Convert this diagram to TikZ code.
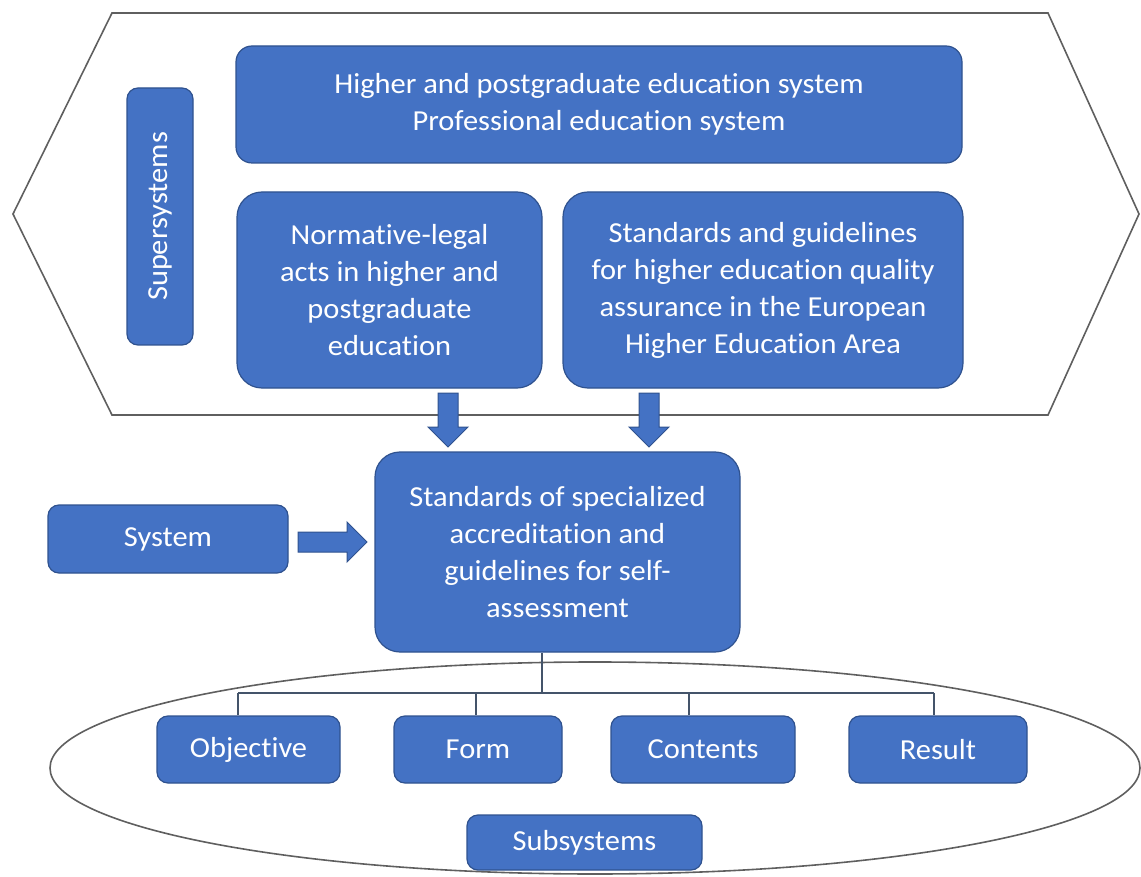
\documentclass[tikz,border=0pt]{standalone}
\usepackage{fontspec}
\setmainfont{Carlito}[FakeStretch=1.05, Ligatures=NoCommon]
\definecolor{boxfill}{HTML}{4472C4}
\definecolor{boxline}{HTML}{2F528F}
\definecolor{outline}{HTML}{5F5F5F}
\definecolor{treeline}{HTML}{44546A}
\begin{document}
\begin{tikzpicture}[x=1pt,y=-1pt,
  bluebox/.style={draw=boxline, line width=1.2pt, fill=boxfill, text=white,
    align=center, inner sep=0pt, font=\fontsize{29}{37}\selectfont},
  bigr/.style={rounded corners=25pt},
  smallr/.style={rounded corners=11pt},
  blockarrow/.style={draw=boxline, line width=1pt, fill=boxfill},
  frame/.style={draw=outline, line width=1.6pt},
  tree/.style={draw=treeline, line width=1.5pt}]
\useasboundingbox (0,0) rectangle (1141,877);

% outer hexagon (supersystems)
\draw[frame] (13,214) -- (112,13) -- (1048,13) -- (1139,214) -- (1048,415) -- (112,415) -- cycle;

% ellipse (subsystems)
\draw[frame] (595,768) ellipse [x radius=545, y radius=106];

% boxes
\node[bluebox, rounded corners=16pt, minimum width=726, minimum height=117] (top) at (599,104.5)
  {Higher and postgraduate education system\\Professional education system};
\node[bluebox, smallr, rotate=90, minimum width=257, minimum height=66] (super) at (160,216.5) {Supersystems};
\node[bluebox, bigr, minimum width=305, minimum height=196] (norm) at (389.5,290)
  {Normative-legal\\acts in higher and\\postgraduate\\education};
\node[bluebox, bigr, minimum width=400, minimum height=196] (std) at (763,290)
  {Standards and guidelines\\for higher education quality\\assurance in the European\\Higher Education Area};
\node[bluebox, bigr, minimum width=365, minimum height=200] (cent) at (557.5,552)
  {Standards of specialized\\accreditation and\\guidelines for self-\\assessment};
\node[bluebox, smallr, minimum width=240, minimum height=68] (sys) at (168,539) {System};
\node[bluebox, smallr, minimum width=183, minimum height=67] (obj) at (248.5,749.5) {Objective};
\node[bluebox, smallr, minimum width=168, minimum height=67] (form) at (478,749.5) {Form};
\node[bluebox, smallr, minimum width=184, minimum height=67] (cont) at (703,749.5) {Contents};
\node[bluebox, smallr, minimum width=178, minimum height=67] (res) at (938,749.5) {Result};
\node[bluebox, smallr, minimum width=235, minimum height=55] (subs) at (584.5,842.5) {Subsystems};

% block arrows
\coordinate (a1) at (448,393);
\coordinate (a2) at (649,393);
\coordinate (a3) at (298,542);
\draw[blockarrow] (a1) ++(-10,0) -- ++(20,0) -- ++(0,34) -- ++(10,0) -- ++(-20,20) -- ++(-20,-20) -- ++(10,0) -- cycle;
\draw[blockarrow] (a2) ++(-10,0) -- ++(20,0) -- ++(0,34) -- ++(10,0) -- ++(-20,20) -- ++(-20,-20) -- ++(10,0) -- cycle;
\draw[blockarrow] (a3) ++(0,-10) -- ++(49,0) -- ++(0,-10) -- ++(20,20) -- ++(-20,20) -- ++(0,-10) -- ++(-49,0) -- cycle;

% tree connectors
\coordinate (hub) at (542,693);
\coordinate (b1) at (238,693);
\coordinate (b2) at (476,693);
\coordinate (b3) at (689,693);
\coordinate (b4) at (934,693);
\draw[tree] (hub |- cent.south) -- (hub);
\draw[tree] (b1) -- (b4);
\draw[tree] (b1) -- (b1 |- obj.north);
\draw[tree] (b2) -- (b2 |- form.north);
\draw[tree] (b3) -- (b3 |- cont.north);
\draw[tree] (b4) -- (b4 |- res.north);
\end{tikzpicture}
\end{document}
